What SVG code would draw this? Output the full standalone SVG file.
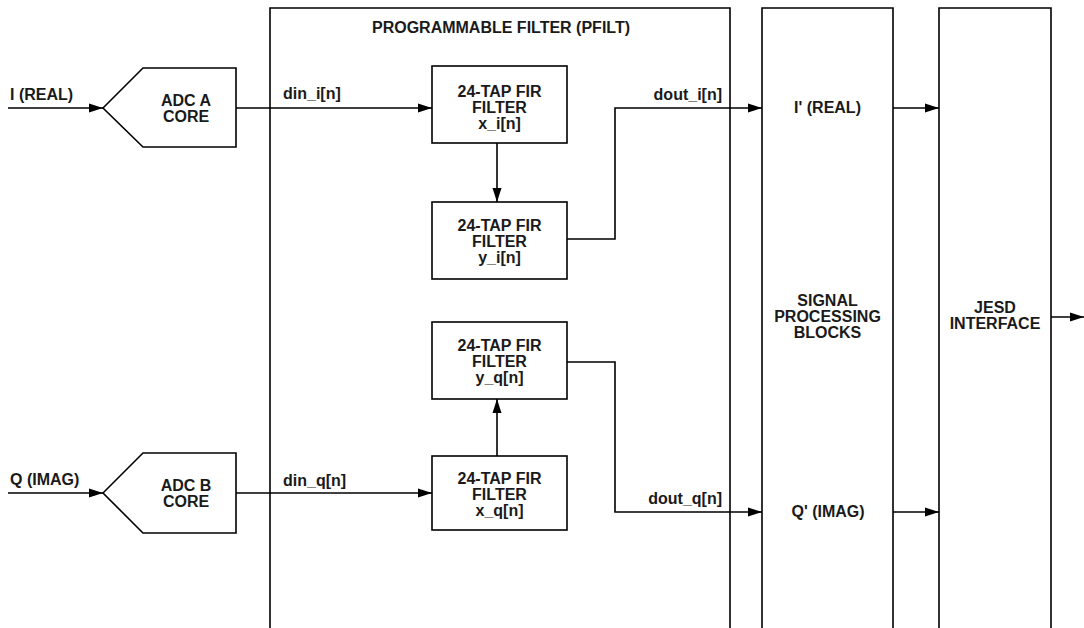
<svg xmlns="http://www.w3.org/2000/svg" width="1084" height="628" viewBox="0 0 1084 628">
<style>
.box{fill:#fff;stroke:#000;stroke-width:1.6}
.ln{fill:none;stroke:#000;stroke-width:1.6}
text{font-family:"Liberation Sans",Arial,sans-serif;font-weight:bold;font-size:16px;fill:#1a1a1a}
.c{text-anchor:middle}
.e{text-anchor:end}
</style>
<defs>
<marker id="ah" markerUnits="userSpaceOnUse" markerWidth="14" markerHeight="10" viewBox="0 0 14 10" refX="14" refY="5" orient="auto">
<path d="M0,0.5 L14,5 L0,9.5 Z" fill="#000"/>
</marker>
</defs>
<rect width="1084" height="628" fill="#fff"/>
<g id="pfilt">
<path class="ln" d="M270,630 V8 H730 V630"/>
<text class="c" x="501" y="33">PROGRAMMABLE FILTER (PFILT)</text>
</g>
<g id="sp">
<path class="ln" d="M762,630 V8 H893 V630"/>
<text class="c" x="827.5" y="306">SIGNAL</text>
<text class="c" x="827.5" y="322">PROCESSING</text>
<text class="c" x="827.5" y="338">BLOCKS</text>
<text class="c" x="827.5" y="113">I' (REAL)</text>
<text class="c" x="828" y="517">Q' (IMAG)</text>
</g>
<g id="jesd">
<path class="ln" d="M939,630 V8 H1051 V630"/>
<text class="c" x="995" y="313">JESD</text>
<text class="c" x="995" y="329">INTERFACE</text>
</g>
<g id="adca">
<path class="box" d="M103,108 L143,68 H236 V147 H143 Z"/>
<text class="c" x="186" y="106">ADC A</text>
<text class="c" x="186" y="122">CORE</text>
</g>
<g id="adcb">
<path class="box" d="M103,493 L143,453 H236 V533 H143 Z"/>
<text class="c" x="186" y="491">ADC B</text>
<text class="c" x="186" y="507">CORE</text>
</g>
<g id="fir_xi">
<rect class="box" x="432" y="66" width="135" height="77"/>
<text class="c" x="499.5" y="97">24-TAP FIR</text>
<text class="c" x="499.5" y="113">FILTER</text>
<text class="c" x="499.5" y="129">x_i[n]</text>
</g>
<g id="fir_yi">
<rect class="box" x="432" y="202" width="135" height="77"/>
<text class="c" x="499.5" y="231">24-TAP FIR</text>
<text class="c" x="499.5" y="247">FILTER</text>
<text class="c" x="499.5" y="263">y_i[n]</text>
</g>
<g id="fir_yq">
<rect class="box" x="432" y="322" width="135" height="77"/>
<text class="c" x="499.5" y="351">24-TAP FIR</text>
<text class="c" x="499.5" y="367">FILTER</text>
<text class="c" x="499.5" y="383">y_q[n]</text>
</g>
<g id="fir_xq">
<rect class="box" x="432" y="456" width="135" height="74"/>
<text class="c" x="499.5" y="484">24-TAP FIR</text>
<text class="c" x="499.5" y="500">FILTER</text>
<text class="c" x="499.5" y="516">x_q[n]</text>
</g>
<g id="connectors">
<path class="ln" d="M8,108 H103" marker-end="url(#ah)"/>
<path class="ln" d="M8,493 H103" marker-end="url(#ah)"/>
<path class="ln" d="M236,108 H432" marker-end="url(#ah)"/>
<path class="ln" d="M236,493 H432" marker-end="url(#ah)"/>
<path class="ln" d="M497,143 V202" marker-end="url(#ah)"/>
<path class="ln" d="M497,456 V399" marker-end="url(#ah)"/>
<path class="ln" d="M567,239 H615 V108 H762" marker-end="url(#ah)"/>
<path class="ln" d="M567,362 H615 V512 H762" marker-end="url(#ah)"/>
<path class="ln" d="M893,108 H939" marker-end="url(#ah)"/>
<path class="ln" d="M893,512 H939" marker-end="url(#ah)"/>
<path class="ln" d="M1051,317 H1084" marker-end="url(#ah)"/>
<text x="10" y="100">I (REAL)</text>
<text x="10" y="485">Q (IMAG)</text>
<text x="283" y="99">din_i[n]</text>
<text x="283" y="486">din_q[n]</text>
<text class="e" x="722" y="100">dout_i[n]</text>
<text class="e" x="722" y="504">dout_q[n]</text>
</g>
</svg>
